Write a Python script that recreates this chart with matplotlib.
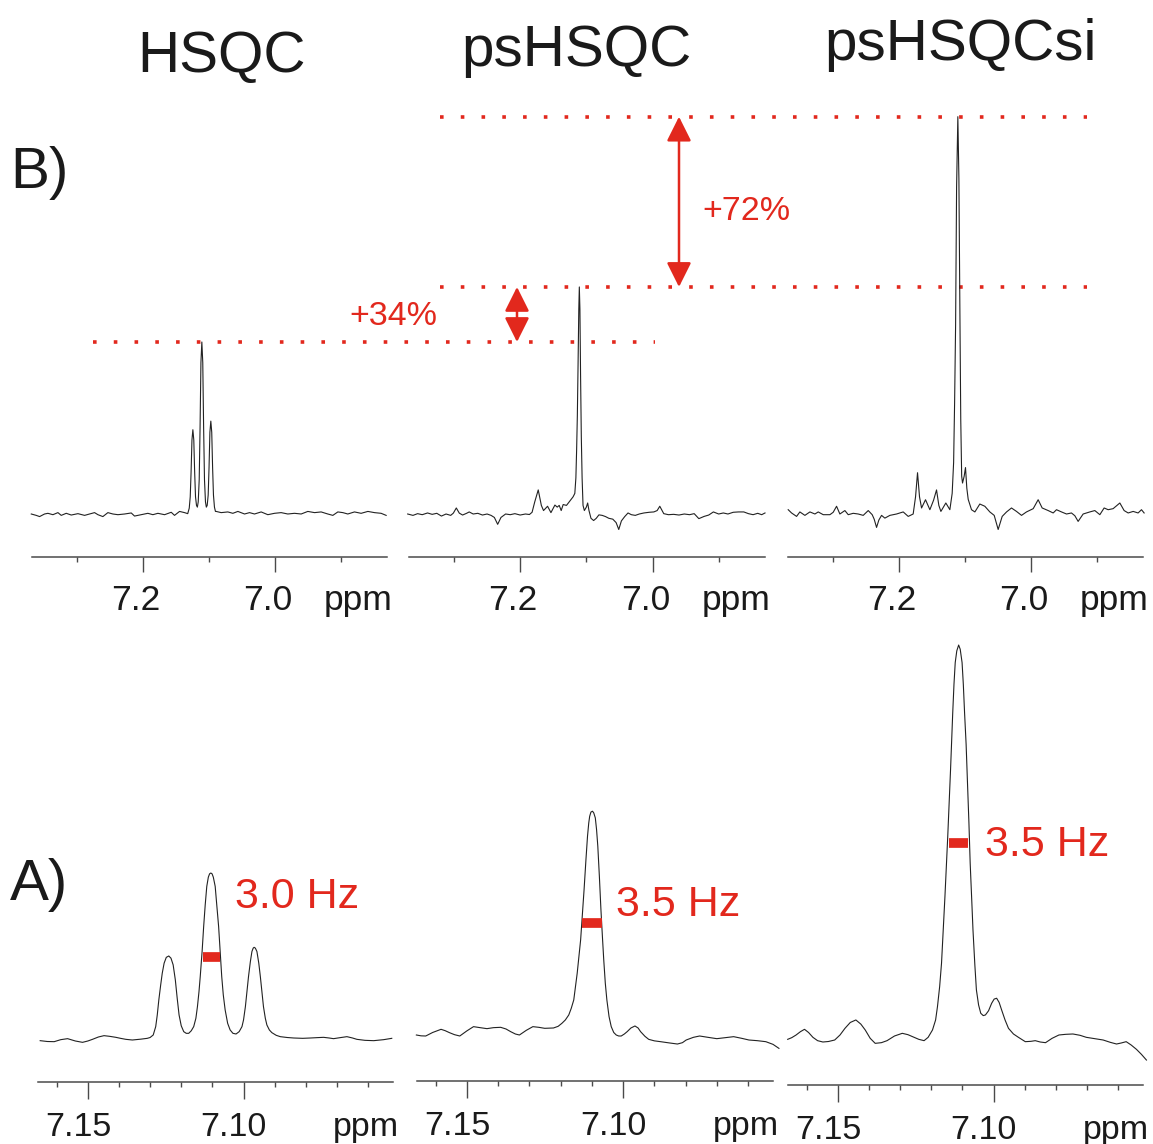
import numpy as np
import matplotlib.pyplot as plt
import matplotlib.transforms as mtransforms
from matplotlib.ticker import MultipleLocator, FormatStrFormatter

plt.rcParams['font.family'] = ['Liberation Sans', 'DejaVu Sans']

# ---- data (ppm, intensity in % of the HSQC main peak) ----
titles = ['HSQC', 'psHSQC', 'psHSQCsi']
gain_labels = ['+34%', '+72%']
fwhm_labels = ['3.0 Hz', '3.5 Hz', '3.5 Hz']
fwhm_edges = [(7.1129, 7.1075), (7.1131, 7.1068), (7.1144, 7.1082)]

# B) full multiplet region
top_hsqc = [
    (7.3691, 0.0), (7.3616, -0.8), (7.3565, -1.5), (7.3490, 0.0), (7.3439, 0.4),
    (7.3363, -0.4), (7.3287, 0.8), (7.3237, -0.8), (7.3161, 0.4), (7.3085, -0.6),
    (7.2984, 0.2), (7.2883, -0.8), (7.2808, 0.0), (7.2732, 0.8), (7.2681, -0.4),
    (7.2606, -1.5), (7.2530, 0.8), (7.2454, 0.0), (7.2378, -0.4), (7.2277, 0.0),
    (7.2176, 0.6), (7.2126, -1.2), (7.2025, -0.4), (7.1924, 0.4), (7.1848, -0.4),
    (7.1772, 0.4), (7.1671, -0.4), (7.1570, 1.0), (7.1520, -0.8), (7.1444, 1.5),
    (7.1368, 0.8), (7.1320, 0.2), (7.1297, 3.4), (7.1282, 10.0), (7.1269, 24.5),
    (7.1256, 43.0), (7.1242, 49.0), (7.1228, 43.0), (7.1215, 24.5), (7.1202, 10.0),
    (7.1187, 5.0), (7.1174, 4.0), (7.1161, 7.0), (7.1146, 20.0), (7.1133, 50.0),
    (7.1120, 88.0), (7.1106, 100.0), (7.1092, 88.0), (7.1079, 50.0), (7.1066, 20.0),
    (7.1051, 7.0), (7.1038, 4.0), (7.1025, 5.0), (7.1010, 11.0), (7.0997, 27.0),
    (7.0984, 47.5), (7.0970, 54.0), (7.0956, 47.5), (7.0943, 27.0), (7.0930, 11.0),
    (7.0915, 4.0), (7.0900, 1.5), (7.0889, 1.5), (7.0813, 0.8), (7.0712, 1.2),
    (7.0636, 0.4), (7.0560, 1.5), (7.0459, 0.0), (7.0383, 0.8), (7.0308, 0.0),
    (7.0207, 1.2), (7.0106, -0.4), (7.0005, 0.4), (6.9904, 0.8), (6.9803, 0.0),
    (6.9702, 0.4), (6.9601, 0.0), (6.9500, 1.5), (6.9398, 0.8), (6.9298, 1.2),
    (6.9197, 0.0), (6.9121, -0.8), (6.9045, 1.2), (6.8969, 0.8), (6.8894, 0.0),
    (6.8793, 1.2), (6.8692, 0.4), (6.8590, 1.5), (6.8490, 0.8), (6.8389, 0.4),
    (6.8313, -0.8),
]

top_pshsqc = [
    (7.370, 0.0), (7.362, -0.8), (7.355, 0.2), (7.348, -0.4), (7.340, 0.6),
    (7.333, -0.2), (7.326, 0.4), (7.319, -1.2), (7.312, 0.0), (7.305, -0.8),
    (7.301, 0.5), (7.2965, 3.5), (7.292, 0.5), (7.287, -0.6), (7.281, 0.4),
    (7.277, 1.2), (7.271, 0.0), (7.264, 0.4), (7.257, -0.6), (7.250, 0.0),
    (7.244, -0.8), (7.239, -2.0), (7.234, -6.0), (7.229, -2.0), (7.222, 0.0),
    (7.215, -0.4), (7.208, 0.2), (7.200, -0.6), (7.192, 0.0), (7.186, -0.3),
    (7.182, 1.0), (7.178, 7.0), (7.1727, 14.0), (7.168, 5.0), (7.1647, 2.0),
    (7.1586, 4.5), (7.1535, 0.8), (7.1475, 5.2), (7.144, 4.0), (7.141, 5.0),
    (7.138, 2.0), (7.135, 5.5), (7.130, 5.0), (7.126, 7.0), (7.1200, 10.0),
    (7.1174, 12.0), (7.1158, 21.0), (7.1147, 37.0), (7.1136, 57.0), (7.1125, 87.0),
    (7.1114, 119.0), (7.1106, 132.0), (7.1097, 119.0), (7.1087, 80.0), (7.1076, 45.0),
    (7.1064, 21.0), (7.1050, 5.0), (7.1030, 2.0), (7.100, 4.0), (7.098, 6.4),
    (7.096, 2.0), (7.093, -2.5), (7.089, -3.8), (7.085, -2.5), (7.081, -0.5),
    (7.076, -0.8), (7.071, -1.5), (7.066, -2.5), (7.060, -3.0), (7.055, -5.0),
    (7.051, -9.0), (7.047, -4.0), (7.042, -1.5), (7.037, 0.6), (7.032, -0.4),
    (7.026, -0.8), (7.020, 0.0), (7.013, 0.6), (7.005, 1.0), (6.998, 1.2),
    (6.993, 2.0), (6.989, 4.5), (6.983, 0.2), (6.976, -0.4), (6.968, -0.2),
    (6.960, -0.6), (6.952, 0.0), (6.944, -0.4), (6.937, 0.2), (6.930, -2.7),
    (6.922, -1.4), (6.915, -0.6), (6.908, 1.2), (6.900, 0.0), (6.893, 0.6),
    (6.886, 0.0), (6.878, 1.0), (6.870, 1.2), (6.862, 1.2), (6.855, 0.2),
    (6.848, -0.4), (6.841, 0.4), (6.835, -0.4), (6.830, 0.6),
]

top_pshsqcsi = [
    (7.3677, 2.5), (7.3626, 0.6), (7.3550, -1.4), (7.3500, 1.2), (7.3424, -0.8),
    (7.3348, 1.2), (7.3272, 0.0), (7.3222, 1.2), (7.3146, -0.4), (7.3045, -0.4),
    (7.2995, 1.0), (7.2944, 4.5), (7.2894, 0.0), (7.2818, 2.0), (7.2767, -0.4),
    (7.2692, 0.4), (7.2616, 0.0), (7.2540, -0.8), (7.2464, 2.0), (7.2404, -0.4),
    (7.2374, -3.0), (7.2338, -7.8), (7.2303, -3.5), (7.2262, -0.8), (7.2212, -2.4),
    (7.2136, -0.8), (7.2035, 0.0), (7.1934, 1.2), (7.1858, -1.4), (7.1783, 0.0),
    (7.1747, 10.0), (7.1717, 24.0), (7.1687, 10.0), (7.1656, 3.5), (7.1596, 8.3),
    (7.1530, 2.5), (7.1474, 8.0), (7.1429, 14.0), (7.1394, 5.0), (7.1363, 1.5),
    (7.1288, 6.4), (7.1227, 2.5), (7.1192, 12.0), (7.1170, 30.0), (7.1155, 65.0),
    (7.1140, 110.0), (7.1125, 190.0), (7.1106, 231.0), (7.1090, 195.0), (7.1075, 118.0),
    (7.1062, 55.0), (7.1048, 22.0), (7.1035, 18.0), (7.1010, 22.0), (7.0990, 27.0),
    (7.0970, 15.0), (7.0949, 8.5), (7.0899, 2.5), (7.0848, 1.2), (7.0773, 5.8),
    (7.0697, 4.5), (7.0621, 1.2), (7.0555, -0.8), (7.0495, -9.0), (7.0434, -1.4),
    (7.0368, 1.2), (7.0293, 3.5), (7.0217, 1.5), (7.0141, -0.8), (7.0066, 1.2),
    (6.9964, 3.1), (6.9889, 8.3), (6.9828, 3.5), (6.9737, 2.0), (6.9661, 0.6),
    (6.9611, 2.5), (6.9535, 1.2), (6.9459, 0.0), (6.9384, 0.6), (6.9333, -1.0),
    (6.9283, -4.3), (6.9207, 0.0), (6.9106, 1.2), (6.9030, 2.0), (6.8954, -0.4),
    (6.8889, 3.5), (6.8828, 2.5), (6.8753, 3.1), (6.8651, 6.4), (6.8586, 2.0),
    (6.8525, 0.6), (6.8449, 1.5), (6.8374, 0.6), (6.8323, 2.5), (6.8283, 0.6),
]

# A) expansion around 7.11 ppm
zoom_hsqc = [
    (7.1653, -0.4), (7.1630, -0.9), (7.1608, -1.0), (7.1587, 0.2), (7.1565, 0.8),
    (7.1540, -0.6), (7.1517, -1.4), (7.1500, -0.6), (7.1485, 0.4), (7.1466, 1.8),
    (7.1448, 2.6), (7.1430, 2.2), (7.1410, 1.6), (7.1395, 1.0), (7.1378, 0.4),
    (7.1357, 0.0), (7.1330, 0.5), (7.1309, 1.0), (7.1300, 1.5), (7.1290, 3.0),
    (7.1282, 8.0), (7.1277, 15.0), (7.1272, 24.0), (7.1266, 33.0), (7.1261, 40.0),
    (7.1255, 46.0), (7.1248, 49.5), (7.1240, 50.3), (7.1233, 49.0), (7.1226, 45.0),
    (7.1219, 36.0), (7.1213, 25.0), (7.1207, 15.0), (7.1200, 8.5), (7.1192, 5.0),
    (7.1184, 4.0), (7.1176, 4.0), (7.1168, 5.5), (7.1160, 8.0), (7.1153, 13.0),
    (7.1148, 20.0), (7.1143, 29.0), (7.1139, 38.0), (7.1133, 53.0), (7.1128, 68.0),
    (7.1123, 81.0), (7.1118, 92.0), (7.1113, 97.5), (7.1109, 99.5), (7.1105, 100.0),
    (7.1101, 99.5), (7.1097, 97.5), (7.1091, 92.0), (7.1086, 81.0), (7.1080, 68.0),
    (7.1075, 53.0), (7.1070, 38.0), (7.1065, 27.0), (7.1059, 18.0), (7.1051, 10.0),
    (7.1043, 6.0), (7.1034, 4.0), (7.1024, 3.6), (7.1014, 5.0), (7.1005, 8.0),
    (7.1000, 12.0), (7.0994, 20.0), (7.0989, 29.0), (7.0984, 38.0), (7.0978, 47.0),
    (7.0973, 53.0), (7.0969, 55.0), (7.0966, 55.5), (7.0962, 55.0), (7.0957, 53.0),
    (7.0951, 46.0), (7.0946, 38.0), (7.0941, 29.0), (7.0936, 20.0), (7.0930, 13.0),
    (7.0925, 9.0), (7.0917, 6.0), (7.0909, 4.4), (7.0895, 2.8), (7.0882, 2.0),
    (7.0860, 1.5), (7.0839, 1.2), (7.0810, 1.0), (7.0785, 1.2), (7.0765, 1.4),
    (7.0743, 1.6), (7.0725, 1.2), (7.0711, 0.8), (7.0690, 1.4), (7.0668, 2.0),
    (7.0650, 1.2), (7.0636, 0.4), (7.0610, -0.2), (7.0582, -0.4), (7.0550, 0.2),
    (7.0524, 1.0),
]

zoom_pshsqc = [
    (7.1662, 0.0), (7.1647, -0.5), (7.1632, -0.6), (7.1610, 1.5), (7.1583, 3.4),
    (7.1570, 2.6), (7.1556, 1.4), (7.1540, 0.2), (7.1523, -0.6), (7.1500, 2.5),
    (7.1479, 5.0), (7.1458, 4.4), (7.1436, 3.8), (7.1415, 4.4), (7.1392, 4.6),
    (7.1375, 3.6), (7.1360, 2.0), (7.1345, 0.6), (7.1332, 0.0), (7.1310, 2.8),
    (7.1289, 5.0), (7.1270, 4.6), (7.1251, 4.0), (7.1223, 4.2), (7.1208, 5.2),
    (7.1196, 7.0), (7.1185, 9.0), (7.1174, 12.0), (7.1166, 16.0), (7.1158, 21.0),
    (7.1147, 37.0), (7.1136, 57.0), (7.1125, 87.0), (7.1119, 105.0), (7.1114, 119.0),
    (7.1110, 127.0), (7.1107, 131.0), (7.1103, 133.5), (7.1098, 134.0), (7.1094, 133.0),
    (7.1089, 130.0), (7.1085, 123.0), (7.1081, 113.0), (7.1076, 95.0), (7.1071, 75.0),
    (7.1066, 58.0), (7.1062, 45.0), (7.1057, 31.0), (7.1052, 21.0), (7.1045, 11.0),
    (7.1038, 5.0), (7.1030, 1.5), (7.1022, 0.0), (7.1014, -0.6), (7.1006, -0.6),
    (7.0996, 0.6), (7.0987, 2.0), (7.0975, 4.2), (7.0962, 5.4), (7.0952, 4.2),
    (7.0944, 2.0), (7.0930, -0.8), (7.0918, -2.6), (7.0900, -3.5), (7.0880, -4.0),
    (7.0850, -4.8), (7.0826, -5.4), (7.0810, -4.6), (7.0798, -3.0), (7.0775, -1.4),
    (7.0755, -0.6), (7.0728, -1.4), (7.0700, -2.2), (7.0673, -1.6), (7.0646, -1.0),
    (7.0620, -2.0), (7.0597, -3.0), (7.0570, -3.4), (7.0543, -4.0), (7.0520, -5.6),
    (7.0501, -8.0),
]

zoom_pshsqcsi = [
    (7.1661, 0.4), (7.1648, 1.4), (7.1634, 3.0), (7.1620, 5.0), (7.1607, 6.4),
    (7.1594, 4.5), (7.1580, 1.6), (7.1565, -0.4), (7.1548, -1.2), (7.1530, -0.9),
    (7.1510, 0.0), (7.1493, 3.0), (7.1477, 7.0), (7.1460, 10.5), (7.1442, 12.0),
    (7.1426, 9.5), (7.1412, 6.0), (7.1396, 1.0), (7.1380, -2.0), (7.1360, -1.6),
    (7.1342, -0.4), (7.1318, 2.4), (7.1293, 4.0), (7.1275, 3.2), (7.1255, 1.6),
    (7.1240, 0.4), (7.1223, -0.4), (7.1210, 1.6), (7.1196, 6.0), (7.1186, 12.0),
    (7.1180, 20.0), (7.1173, 32.0), (7.1167, 46.0), (7.1156, 86.0), (7.1147, 122.0),
    (7.1138, 162.0), (7.1131, 196.0), (7.1127, 213.0), (7.1123, 226.0), (7.1118, 233.0),
    (7.1112, 236.5), (7.1107, 234.0), (7.1101, 226.0), (7.1097, 213.0), (7.1093, 196.0),
    (7.1088, 177.0), (7.1084, 156.0), (7.1079, 130.0), (7.1075, 106.0), (7.1070, 84.0),
    (7.1066, 66.0), (7.1060, 45.0), (7.1055, 30.0), (7.1048, 21.0), (7.1041, 16.0),
    (7.1033, 14.6), (7.1026, 15.0), (7.1016, 17.5), (7.1006, 22.0), (7.0998, 24.5),
    (7.0990, 25.0), (7.0982, 22.5), (7.0974, 18.0), (7.0963, 12.0), (7.0952, 7.0),
    (7.0936, 3.6), (7.0920, 1.6), (7.0898, -1.0), (7.0880, -0.8), (7.0866, -0.4),
    (7.0850, -1.2), (7.0833, -1.6), (7.0812, 1.0), (7.0790, 3.0), (7.0768, 3.4),
    (7.0745, 3.6), (7.0722, 2.8), (7.0702, 1.6), (7.0675, 0.8), (7.0648, 0.0),
    (7.0625, -1.4), (7.0605, -2.4), (7.0590, -1.8), (7.0574, -1.0), (7.0558, -3.0),
    (7.0541, -5.6), (7.0525, -8.6), (7.0509, -12.0),
]

top_spectra = [top_hsqc, top_pshsqc, top_pshsqcsi]
zoom_spectra = [zoom_hsqc, zoom_pshsqc, zoom_pshsqcsi]

# ---- layout (pixels of the 1153 x 1144 canvas) ----
W, H = 1153, 1144
red = '#e2281d'
ink = '#1a1a1a'
axis_col = '#4a4a4a'

top_x = [(32, 387), (409, 765), (788, 1143)]
top_y0, top_y1, top_base, top_scale = 100, 557, 514, 1.72
bot_x = [(38, 393), (417, 773), (788, 1143)]
bot_axis = [1082, 1081, 1085]
bot_base = [1040, 1035, 1040]
bot_y0, bot_scale = 600, 1.67

dot_spans = [(93, 655), (440, 1087), (440, 1087)]
arrow_x = [517, 679]          # pixel x of the two double arrows
gain_offsets = [(-121, -7.6), (17, -13)]
hz_offsets = [(10.8, 34.6), (10, 5), (12.2, -10)]

fig = plt.figure(figsize=(W / 100, H / 100), dpi=100)


def px_axes(x0, x1, y0, y1):
    return fig.add_axes([x0 / W, 1 - y1 / H, (x1 - x0) / W, (y1 - y0) / H])


def style_axis(ax, major, minor, fmt, lab_size, maj_len, pad, shift):
    for s in ['left', 'right', 'top']:
        ax.spines[s].set_visible(False)
    ax.spines['bottom'].set_color(axis_col)
    ax.spines['bottom'].set_linewidth(1.1)
    ax.set_yticks([])
    ax.patch.set_visible(False)
    ax.xaxis.set_major_locator(MultipleLocator(major))
    ax.xaxis.set_minor_locator(MultipleLocator(minor))
    ax.xaxis.set_major_formatter(FormatStrFormatter(fmt))
    ax.tick_params(axis='x', which='major', direction='out', length=maj_len,
                   width=1.0, color=axis_col, pad=pad, labelsize=lab_size,
                   labelcolor=ink)
    ax.tick_params(axis='x', which='minor', direction='out', length=3.6,
                   width=1.0, color=axis_col)
    # labels sit a little left of their ticks in the original
    off = mtransforms.ScaledTranslation(shift / 72, 0, fig.dpi_scale_trans)
    for lab in ax.xaxis.get_majorticklabels():
        lab.set_transform(lab.get_transform() + off)
    ax.annotate('ppm', xy=(1, 0), xycoords='axes fraction',
                xytext=(4, -(maj_len + pad)), textcoords='offset points',
                ha='right', va='top', fontsize=lab_size, color=ink)


# ---- B) row ----
top_axes = []
ylim_top = (-(top_y1 - top_base) / top_scale, (top_base - top_y0) / top_scale)
for i, spec in enumerate(top_spectra):
    x0, x1 = top_x[i]
    ax = px_axes(x0, x1, top_y0, top_y1)
    ppm, val = zip(*spec)
    ax.plot(ppm, val, color='#222222', lw=0.8, clip_on=False)
    ax.set_xlim(7.368, 6.830)
    ax.set_ylim(*ylim_top)
    style_axis(ax, 0.2, 0.1, '%.1f', 25.5, 10.8, 8.6, -5)
    top_axes.append(ax)

# dotted lines at the peak maxima
peak_max = [max(v for _, v in s) for s in top_spectra]
for i, ax in enumerate(top_axes):
    x0, x1 = top_x[i]
    a, b = dot_spans[i]
    ax.axhline(peak_max[i], xmin=(a - x0) / (x1 - x0), xmax=(b - x0) / (x1 - x0),
               color=red, lw=2.6, linestyle=(0, (1, 4.75)), clip_on=False)

# arrows and gains, drawn in the psHSQC panel
ax = top_axes[1]
x0, x1 = top_x[1]
for k in range(2):
    lo, hi = peak_max[k], peak_max[k + 1]
    xf = (arrow_x[k] - x0) / (x1 - x0)
    ax.annotate('', xy=(xf, hi), xytext=(xf, lo),
                xycoords=('axes fraction', 'data'),
                textcoords=('axes fraction', 'data'), annotation_clip=False,
                arrowprops=dict(arrowstyle='<|-|>,head_length=15,head_width=7.5',
                                mutation_scale=1, shrinkA=0, shrinkB=0,
                                color=red, lw=1.8))
    ax.annotate(gain_labels[k], xy=(xf, (lo + hi) / 2),
                xycoords=('axes fraction', 'data'),
                xytext=gain_offsets[k], textcoords='offset points',
                ha='left', va='baseline', fontsize=24.5, color=red,
                annotation_clip=False)

# ---- A) row ----
for i, spec in enumerate(zoom_spectra):
    x0, x1 = bot_x[i]
    ax = px_axes(x0, x1, bot_y0, bot_axis[i])
    ppm, val = zip(*spec)
    ax.plot(ppm, val, color='#222222', lw=0.8, clip_on=False)
    ax.set_xlim(7.166, 7.052)
    ax.set_ylim(-(bot_axis[i] - bot_base[i]) / bot_scale,
                (bot_base[i] - bot_y0) / bot_scale)
    style_axis(ax, 0.05, 0.01, '%.2f', 24.5, 12, 9.4, -7)
    # line width at half height
    half = max(val) / 2
    ax.plot(fwhm_edges[i], [half, half], color=red, lw=7,
            solid_capstyle='butt')
    ax.annotate(fwhm_labels[i], xy=(min(fwhm_edges[i]), half), xycoords='data',
                xytext=hz_offsets[i], textcoords='offset points',
                ha='left', va='baseline', fontsize=31, color=red)

# ---- titles and panel letters ----
title_cx = [221.5, 576, 960]
title_base = [72, 66, 60]
for t, cx, by in zip(titles, title_cx, title_base):
    fig.text(cx / W, 1 - by / H, t, ha='center', va='baseline',
             fontsize=42, color=ink)
fig.text(10 / W, 1 - 188 / H, 'B)', ha='left', va='baseline', fontsize=42, color=ink)
fig.text(10 / W, 1 - 900 / H, 'A)', ha='left', va='baseline', fontsize=42, color=ink)

fig.savefig('out.png', dpi=100)
